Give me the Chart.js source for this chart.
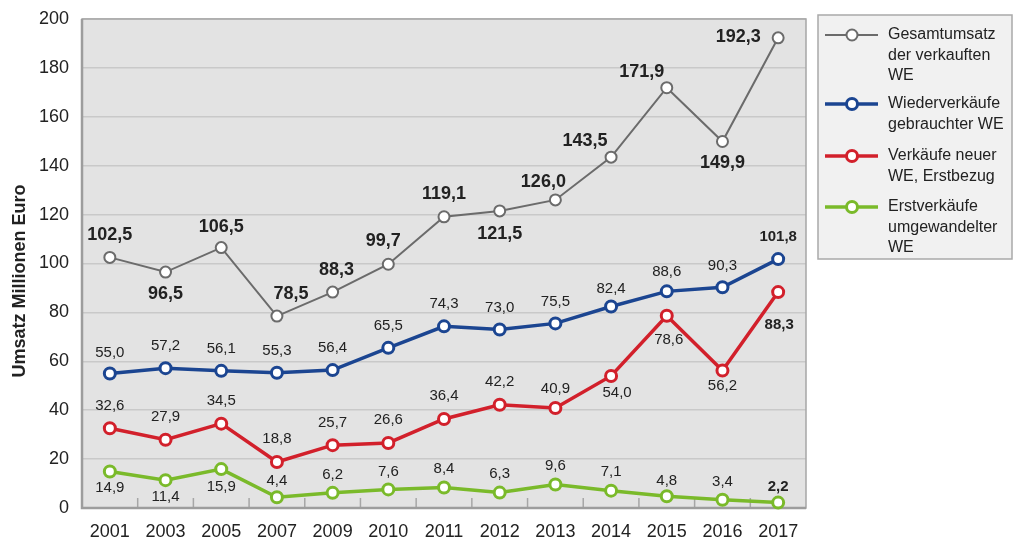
<!DOCTYPE html>
<html>
<head>
<meta charset="utf-8">
<script src="https://cdn.jsdelivr.net/npm/chart.js@4/dist/chart.umd.min.js"></script>
<style>
  body { margin: 0; background: #fff; }
  canvas { display: block; }
</style>
</head>
<body>
<canvas id="chart" width="1014" height="540"></canvas>
<script>
const years = ["2001", "2003", "2005", "2007", "2009", "2010", "2011", "2012", "2013", "2014", "2015", "2016", "2017"];
const gesamt = [102.5, 96.5, 106.5, 78.5, 88.3, 99.7, 119.1, 121.5, 126.0, 143.5, 171.9, 149.9, 192.3];
const wieder = [55.0, 57.2, 56.1, 55.3, 56.4, 65.5, 74.3, 73.0, 75.5, 82.4, 88.6, 90.3, 101.8];
const neu = [32.6, 27.9, 34.5, 18.8, 25.7, 26.6, 36.4, 42.2, 40.9, 54.0, 78.6, 56.2, 88.3];
const umgewandelt = [14.9, 11.4, 15.9, 4.4, 6.2, 7.6, 8.4, 6.3, 9.6, 7.1, 4.8, 3.4, 2.2];
const yTicks = [0, 20, 40, 60, 80, 100, 120, 140, 160, 180, 200];

const legendLines = [
  ["Gesamtumsatz", "der verkauften", "WE"],
  ["Wiederverkäufe", "gebrauchter WE"],
  ["Verkäufe neuer", "WE, Erstbezug"],
  ["Erstverkäufe", "umgewandelter", "WE"],
];

// label offsets in px (dx, dy) per series, relative to the point
const labelOffsets = [
  { dx: [0, 0, 0, 14, 4, -5, 0, 0, -12, -26, -25, 0, -40], dy: [-22, 22, -21, -22, -22, -23, -23, 23, -18, -16, -16, 22, -1] },
  { dx: [0, 0, 0, 0, 0, 0, 0, 0, 0, 0, 0, 0, 0], dy: [-21, -22, -22, -22, -22, -22, -22, -22, -22, -18, -20, -21, -22] },
  { dx: [0, 0, 0, 0, 0, 0, 0, 0, 0, 6, 2, 0, 1], dy: [-22, -23, -23, -23, -22, -23, -23, -23, -19, 17, 24, 15, 33] },
  { dx: [0, 0, 0, 0, 0, 0, 0, 0, 0, 0, 0, 0, 0], dy: [16, 17, 18, -16, -18, -18, -19, -19, -19, -19, -15, -18, -16] },
];

const FONT = "'Liberation Sans', Arial, sans-serif";
const fmt = (v) => v.toFixed(1).replace(".", ",");

const plotBg = {
  id: "plotBg",
  beforeDraw(chart) {
    const { ctx, chartArea: a } = chart;
    ctx.save();
    ctx.fillStyle = "#e3e3e3";
    ctx.fillRect(a.left, a.top, a.right - a.left, a.bottom - a.top);
    ctx.restore();
  },
  beforeDatasetsDraw(chart) {
    const { ctx, chartArea: a } = chart;
    const x = chart.scales.x;
    ctx.save();
    ctx.strokeStyle = "#a6a6a6";
    ctx.lineWidth = 1.5;
    ctx.strokeRect(a.left, a.top, a.right - a.left, a.bottom - a.top);
    // small ticks between categories
    for (let i = 1; i < years.length; i++) {
      const px = (x.getPixelForTick(i - 1) + x.getPixelForTick(i)) / 2;
      ctx.beginPath();
      ctx.moveTo(px, a.bottom);
      ctx.lineTo(px, a.bottom - 10);
      ctx.stroke();
    }
    ctx.lineWidth = 2.5;
    ctx.strokeStyle = "#9d9d9d";
    ctx.beginPath();
    ctx.moveTo(a.left, a.top);
    ctx.lineTo(a.left, a.bottom);
    ctx.lineTo(a.right, a.bottom);
    ctx.stroke();
    ctx.restore();
  },
};

const valueLabels = {
  id: "valueLabels",
  afterDatasetsDraw(chart) {
    const { ctx } = chart;
    ctx.save();
    ctx.textAlign = "center";
    ctx.textBaseline = "middle";
    ctx.fillStyle = "#222";
    chart.data.datasets.forEach((ds, d) => {
      const meta = chart.getDatasetMeta(d);
      meta.data.forEach((pt, i) => {
        const bold = d === 0 || i === ds.data.length - 1;
        const size = d === 0 ? 18 : 15;
        ctx.font = (bold ? "bold " : "") + size + "px " + FONT;
        const o = labelOffsets[d];
        ctx.fillText(fmt(ds.data[i]), pt.x + o.dx[i], pt.y + o.dy[i]);
      });
    });
    ctx.restore();
  },
};

const sideStuff = {
  id: "sideStuff",
  afterDraw(chart) {
    const { ctx } = chart;
    ctx.save();
    // y title
    ctx.translate(20, 281);
    ctx.rotate(-Math.PI / 2);
    ctx.font = "bold 18px " + FONT;
    ctx.fillStyle = "#222";
    ctx.textAlign = "center";
    ctx.textBaseline = "middle";
    ctx.fillText("Umsatz Millionen Euro", 0, 0);
    ctx.restore();

    // legend
    ctx.save();
    ctx.fillStyle = "#f1f1f1";
    ctx.fillRect(818, 15, 194, 244);
    ctx.strokeStyle = "#a9a9a9";
    ctx.lineWidth = 1.5;
    ctx.strokeRect(818, 15, 194, 244);
    const rowsY = [35, 104, 156, 207];
    chart.data.datasets.forEach((ds, d) => {
      const y = rowsY[d];
      ctx.strokeStyle = ds.borderColor;
      ctx.lineWidth = ds.borderWidth;
      ctx.beginPath();
      ctx.moveTo(825, y);
      ctx.lineTo(878, y);
      ctx.stroke();
      ctx.beginPath();
      ctx.arc(852, y, 5.5, 0, Math.PI * 2);
      ctx.fillStyle = "#fff";
      ctx.fill();
      ctx.lineWidth = ds.pointBorderWidth;
      ctx.stroke();
      ctx.fillStyle = "#222";
      ctx.font = "16px " + FONT;
      ctx.textAlign = "left";
      ctx.textBaseline = "middle";
      legendLines[d].forEach((t, k) => ctx.fillText(t, 888, y + k * 20.5));
    });
    ctx.restore();
  },
};

function series(label, data, color, width, pbw) {
  return {
    label: label,
    data: data,
    borderColor: color,
    borderWidth: width,
    pointRadius: 5.5,
    pointBorderWidth: pbw,
    pointBackgroundColor: "#fff",
    pointBorderColor: color,
    tension: 0,
    clip: false,
  };
}

new Chart("chart", {
  type: "line",
  data: {
    labels: years,
    datasets: [
      series(legendLines[0].join(" "), gesamt, "#6b6b6b", 2, 2),
      series(legendLines[1].join(" "), wieder, "#1b4591", 3.5, 3),
      series(legendLines[2].join(" "), neu, "#d2202b", 3.5, 3),
      series(legendLines[3].join(" "), umgewandelt, "#7aba2a", 3.5, 3),
    ],
  },
  options: {
    responsive: false,
    animation: false,
    layout: { padding: { top: 19, right: 208, bottom: 0, left: 0 } },
    plugins: { legend: { display: false }, tooltip: { enabled: false } },
    scales: {
      x: {
        offset: true,
        grid: { display: false, drawTicks: false },
        border: { display: false },
        ticks: { font: { family: FONT, size: 18 }, color: "#222", padding: 13, maxRotation: 0 },
        afterFit(s) { s.height = 32; },
      },
      y: {
        min: 0,
        max: 200,
        afterBuildTicks(s) { s.ticks = yTicks.map((v) => ({ value: v })); },
        grid: { color: "#c9c9c9", lineWidth: 1.5, drawTicks: false },
        border: { display: false },
        ticks: { font: { family: FONT, size: 18 }, color: "#222", padding: 13 },
        afterFit(s) {
          s.width = 82;
          s.paddingTop = 0;
          s.paddingBottom = 0;
        },
      },
    },
  },
  plugins: [plotBg, valueLabels, sideStuff],
});
</script>
</body>
</html>
